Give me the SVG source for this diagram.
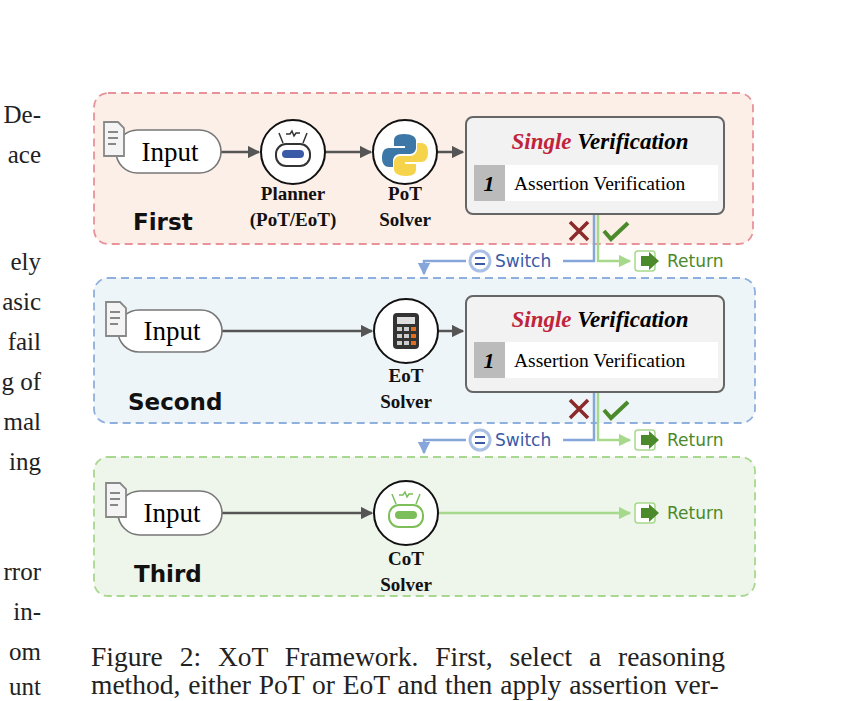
<svg xmlns="http://www.w3.org/2000/svg" width="848" height="701" viewBox="0 0 848 701">
<defs>
<style>
.serif{font-family:"Liberation Serif","DejaVu Serif",serif}
.side{font-family:"Liberation Serif",serif;font-size:25px;fill:#222;text-anchor:end}
.pill{fill:#fff;stroke:#777;stroke-width:1.6}
.lbl{font-family:"Liberation Serif",serif;font-size:19px;font-weight:bold;text-anchor:middle;fill:#111}
.stage{font-family:"DejaVu Sans",sans-serif;font-size:23px;font-weight:bold;fill:#111}
.circ{fill:#fff;stroke:#111;stroke-width:2}
.vbox{fill:#f2f2f2;stroke:#666;stroke-width:2}
.conn{stroke:#555;stroke-width:2.5;fill:none}
.sw{font-family:"DejaVu Sans",sans-serif;font-size:17px;fill:#3a5aa8}
.ret{font-family:"DejaVu Sans",sans-serif;font-size:17px;fill:#4a8a2a}
</style>
<marker id="ag" viewBox="0 0 10 10" refX="9" refY="5" markerWidth="5" markerHeight="5" orient="auto"><path d="M0,0L10,5L0,10z" fill="#555"/></marker>
<marker id="ab" viewBox="0 0 10 10" refX="9" refY="5" markerWidth="5" markerHeight="5" orient="auto"><path d="M0,0L10,5L0,10z" fill="#86a6da"/></marker>
<marker id="agr" viewBox="0 0 10 10" refX="9" refY="5" markerWidth="5" markerHeight="5" orient="auto"><path d="M0,0L10,5L0,10z" fill="#a6d98c"/></marker>
<g id="doc"><path d="M0,0h14l6,6v28h-20z" fill="#f4f4f4" stroke="#888" stroke-width="1.8"/><path d="M4,10h10M4,16h10M4,22h8" stroke="#888" stroke-width="1.8"/></g>
</defs>
<rect width="848" height="701" fill="#fff"/>
<g id="side">
<text class="side" x="41" y="123">De-</text><text class="side" x="41" y="163">ace</text>
<text class="side" x="41" y="270">ely</text><text class="side" x="41" y="310">asic</text>
<text class="side" x="41" y="350">fail</text><text class="side" x="41" y="390">g of</text>
<text class="side" x="41" y="430">mal</text><text class="side" x="41" y="470">ing</text>
<text class="side" x="41" y="580">rror</text><text class="side" x="41" y="620">in-</text>
<text class="side" x="41" y="660">om</text><text class="side" x="41" y="695">unt</text>
</g>
<g id="panels">
<rect x="94" y="93" width="659" height="151" rx="14" fill="#fcefe8" stroke="#e8929a" stroke-width="1.8" stroke-dasharray="8,5"/>
<rect x="94" y="278" width="661" height="145" rx="14" fill="#eef5f8" stroke="#8fb0de" stroke-width="1.8" stroke-dasharray="8,5"/>
<rect x="94" y="457" width="661" height="139" rx="14" fill="#eef5ea" stroke="#a8d890" stroke-width="1.8" stroke-dasharray="8,5"/>
<text class="stage" x="133" y="230">First</text>
<text class="stage" x="128" y="410">Second</text>
<text class="stage" x="134" y="582">Third</text>
</g>
<g id="connectors">
<path class="conn" d="M221,152H259" marker-end="url(#ag)"/>
<path class="conn" d="M325,152H371" marker-end="url(#ag)"/>
<path class="conn" d="M437,152H463" marker-end="url(#ag)"/>
<path class="conn" d="M222,331H372" marker-end="url(#ag)"/>
<path class="conn" d="M438,331H463" marker-end="url(#ag)"/>
<path class="conn" d="M222,513H372" marker-end="url(#ag)"/>
<path d="M438,513H630" stroke="#a6d98c" stroke-width="2.5" fill="none" marker-end="url(#agr)"/>
<path d="M594,214V261H563M466,261H424V274" stroke="#86a6da" stroke-width="2.5" fill="none" marker-end="url(#ab)"/>
<path d="M598,214V261H630" stroke="#a6d98c" stroke-width="2.5" fill="none" marker-end="url(#agr)"/>
<path d="M594,392V440H563M466,440H424V453" stroke="#86a6da" stroke-width="2.5" fill="none" marker-end="url(#ab)"/>
<path d="M598,392V440H630" stroke="#a6d98c" stroke-width="2.5" fill="none" marker-end="url(#agr)"/>
</g>
<g id="first">
<g id="input1"><rect class="pill" x="116" y="130" width="105" height="43" rx="21.5"/><use href="#doc" x="104" y="122"/><text class="serif" x="170" y="161" font-size="27" text-anchor="middle">Input</text></g>
<g id="planner"><circle class="circ" cx="293" cy="152" r="32"/>
<rect x="276" y="144" width="34" height="22" rx="10" fill="#fff" stroke="#333" stroke-width="2"/><rect x="282" y="150" width="22" height="8" rx="4" fill="#3a5aa8"/><path d="M283,143l-4,-10M303,143l4,-10M286,134h4l2,-3 2,5 2,-3h4" stroke="#333" stroke-width="1.5" fill="none"/>
<text class="lbl" x="293" y="200">Planner</text><text class="lbl" x="293" y="226">(PoT/EoT)</text></g>
<g id="pot"><circle class="circ" cx="405" cy="152" r="32"/>
<path d="M404,134c-8,0-10,3-10,7v5h11v2h-16c-5,0-7,4-7,10s3,9,7,9h4v-6c0-4,3-7,7-7h10c3,0,6-3,6-6v-7c0-4-4-7-12-7z" fill="#3c77a8"/>
<path d="M406,176c8,0 10,-3 10,-7v-5h-11v-2h16c5,0 7,-4 7,-10s-3,-9 -7,-9h-4v6c0,4 -3,7 -7,7h-10c-3,0 -6,3 -6,6v7c0,4 4,7 12,7z" fill="#f5d34a"/>
<text class="lbl" x="405" y="200">PoT</text><text class="lbl" x="405" y="226">Solver</text></g>
<g id="verif1"><rect class="vbox" x="466" y="117" width="258" height="97" rx="7"/>
<text class="serif" x="600" y="149" font-size="23" font-weight="bold" font-style="italic" text-anchor="middle"><tspan fill="#c0243a">Single</tspan> Verification</text>
<rect x="474" y="165" width="244" height="36" fill="#fff"/><rect x="474" y="165" width="31" height="36" fill="#bbb"/>
<text class="serif" x="489" y="191" font-size="22" font-weight="bold" font-style="italic" text-anchor="middle">1</text>
<text class="serif" x="514" y="190" font-size="19.5">Assertion Verification</text></g>
</g>
<g id="sw1">
<path d="M570,222l18,18M588,222l-18,18" stroke="#8b2a2a" stroke-width="3.5"/>
<path d="M604,231l7,8 17,-16" stroke="#4a8a2a" stroke-width="4" fill="none"/>
<circle cx="480" cy="261" r="10" fill="#fff" stroke="#aac0e6" stroke-width="3"/><path d="M475,258h10M475,264h10" stroke="#3a5aa8" stroke-width="2"/>
<text class="sw" x="495" y="267">Switch</text>
<rect x="635" y="251" width="20" height="20" rx="3" fill="#fff" stroke="#a6d98c" stroke-width="1.5"/><path d="M641,256h8v-4l10,9-10,9v-4h-8z" fill="#4a8a2a"/>
<text class="ret" x="667" y="267">Return</text>
</g>
<g id="second">
<g id="input2"><rect class="pill" x="118" y="310" width="104" height="42" rx="21"/><use href="#doc" x="106" y="302"/><text class="serif" x="172" y="340" font-size="27" text-anchor="middle">Input</text></g>
<g id="eot"><circle class="circ" cx="406" cy="331" r="32"/>
<rect x="393" y="313" width="26" height="36" rx="4" fill="#333"/><rect x="397" y="317" width="18" height="7" fill="#ddd"/>
<g fill="#ccc"><rect x="397" y="327" width="5" height="4"/><rect x="404" y="327" width="5" height="4"/><rect x="411" y="327" width="5" height="4" fill="#e07020"/><rect x="397" y="334" width="5" height="4"/><rect x="404" y="334" width="5" height="4"/><rect x="411" y="334" width="5" height="4" fill="#e07020"/><rect x="397" y="341" width="5" height="4"/><rect x="404" y="341" width="5" height="4"/><rect x="411" y="341" width="5" height="4" fill="#e07020"/></g>
<text class="lbl" x="406" y="382">EoT</text><text class="lbl" x="406" y="408">Solver</text></g>
<g id="verif2"><rect class="vbox" x="466" y="296" width="258" height="96" rx="7"/>
<text class="serif" x="600" y="327" font-size="23" font-weight="bold" font-style="italic" text-anchor="middle"><tspan fill="#c0243a">Single</tspan> Verification</text>
<rect x="474" y="342" width="244" height="36" fill="#fff"/><rect x="474" y="342" width="31" height="36" fill="#bbb"/>
<text class="serif" x="489" y="368" font-size="22" font-weight="bold" font-style="italic" text-anchor="middle">1</text>
<text class="serif" x="514" y="367" font-size="19.5">Assertion Verification</text></g>
</g>
<g id="sw2">
<path d="M570,400l18,18M588,400l-18,18" stroke="#8b2a2a" stroke-width="3.5"/>
<path d="M604,410l7,8 17,-16" stroke="#4a8a2a" stroke-width="4" fill="none"/>
<circle cx="480" cy="440" r="10" fill="#fff" stroke="#aac0e6" stroke-width="3"/><path d="M475,437h10M475,443h10" stroke="#3a5aa8" stroke-width="2"/>
<text class="sw" x="495" y="446">Switch</text>
<rect x="635" y="430" width="20" height="20" rx="3" fill="#fff" stroke="#a6d98c" stroke-width="1.5"/><path d="M641,435h8v-4l10,9-10,9v-4h-8z" fill="#4a8a2a"/>
<text class="ret" x="667" y="446">Return</text>
</g>
<g id="third">
<g id="input3"><rect class="pill" x="118" y="491" width="104" height="44" rx="22"/><use href="#doc" x="106" y="483"/><text class="serif" x="172" y="522" font-size="27" text-anchor="middle">Input</text></g>
<g id="cot"><circle class="circ" cx="406" cy="513" r="32"/>
<rect x="389" y="505" width="34" height="22" rx="10" fill="#fff" stroke="#7cbf5a" stroke-width="2"/><rect x="395" y="511" width="22" height="8" rx="4" fill="#7cbf5a"/><path d="M396,504l-4,-10M416,504l4,-10M399,495h4l2,-3 2,5 2,-3h4" stroke="#7cbf5a" stroke-width="1.5" fill="none"/>
<text class="lbl" x="406" y="565">CoT</text><text class="lbl" x="406" y="591">Solver</text></g>
<rect x="635" y="503" width="20" height="20" rx="3" fill="#fff" stroke="#a6d98c" stroke-width="1.5"/><path d="M641,508h8v-4l10,9-10,9v-4h-8z" fill="#4a8a2a"/>
<text class="ret" x="667" y="519">Return</text>
</g>
<g id="caption">
<text class="serif" x="91" y="666" font-size="27.5" fill="#222" word-spacing="10">Figure 2: XoT Framework.  First, select a reasoning</text>
<text class="serif" x="91" y="694" font-size="27.5" fill="#222" word-spacing="1">method, either PoT or EoT and then apply assertion ver-</text>
</g>
</svg>
